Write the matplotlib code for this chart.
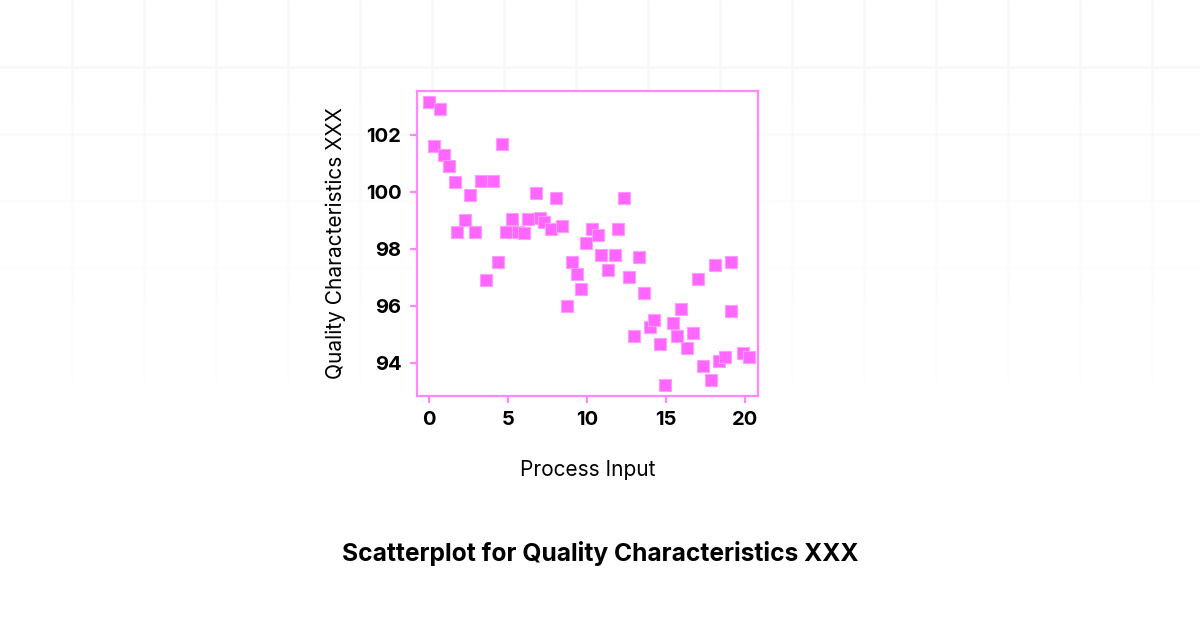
import matplotlib
matplotlib.use("Agg")
import matplotlib.pyplot as plt

# values
process_input = [
    0.0, 0.3, 0.7, 0.95, 1.25, 1.65, 1.8, 2.3, 2.6, 2.9,
    3.3, 3.6, 4.05, 4.35, 4.6, 4.85, 5.25, 5.6, 6.0, 6.25,
    6.75, 7.0, 7.3, 7.7, 8.0, 8.4, 8.75, 9.05, 9.35, 9.6,
    9.9, 10.3, 10.7, 10.85, 11.3, 11.75, 11.95, 12.35, 12.65, 12.95,
    13.3, 13.6, 13.95, 14.25, 14.6, 14.95, 15.4, 15.65, 15.95, 16.3,
    16.7, 17.0, 17.35, 17.8, 18.1, 18.35, 18.7, 19.1, 19.1, 19.85,
    20.2,
]
quality = [
    103.15, 101.6, 102.9, 101.3, 100.9, 100.35, 98.6, 99.0, 99.9, 98.6,
    100.4, 96.9, 100.4, 97.55, 101.7, 98.6, 99.05, 98.6, 98.55, 99.05,
    99.95, 99.1, 98.95, 98.7, 99.8, 98.8, 96.0, 97.55, 97.1, 96.6,
    98.2, 98.7, 98.5, 97.8, 97.25, 97.8, 98.7, 99.8, 97.0, 94.95,
    97.7, 96.45, 95.25, 95.5, 94.65, 93.2, 95.4, 94.95, 95.9, 94.5,
    95.05, 96.95, 93.9, 93.4, 97.45, 94.05, 94.2, 97.55, 95.8, 94.35,
    94.2,
]
x_ticks = [0, 5, 10, 15, 20]
y_ticks = [94, 96, 98, 100, 102]

PINK = "#ff66ff"
SPINE = "#ff88ff"

W, H = 1200, 628
fig = plt.figure(figsize=(12, 6.28), dpi=100)
fig.patch.set_facecolor("white")

# very faint decorative grid in the background, fading downwards
bg = fig.add_axes([0, 0, 1, 1], zorder=-1)
bg.set_xlim(0, W)
bg.set_ylim(H, 0)
bg.axis("off")
for gx in range(72, W, 72):
    for y0, a in [(0, 1.0), (100, 0.7), (200, 0.4), (280, 0.2)]:
        bg.plot([gx, gx], [y0, y0 + 100], color="#f8f8f8", lw=2, alpha=a,
                solid_capstyle="butt")
for gy, a in [(67, 0.9), (134, 0.6), (201, 0.35), (268, 0.2)]:
    bg.plot([0, W], [gy, gy], color="#f8f8f8", lw=2, alpha=a)

ax = fig.add_axes([0.3472, 0.3699, 0.2845, 0.4857])
ax.scatter(process_input, quality, marker="s", s=70, color=PINK,
           edgecolors="#ff9cff", linewidths=0.8, zorder=3)

ax.set_xlim(-0.78, 20.8)
ax.set_ylim(92.84, 103.56)
ax.set_xticks(x_ticks)
ax.set_yticks(y_ticks)
for s in ax.spines.values():
    s.set_color(SPINE)
    s.set_linewidth(1.6)
ax.tick_params(direction="out", length=5, width=1.6, color=SPINE,
               labelsize=14.5, pad=6)
for lab in ax.get_xticklabels() + ax.get_yticklabels():
    lab.set_fontweight("bold")
    lab.set_fontfamily("Inter")

ax.set_xlabel("Process Input", fontsize=15, family="Inter", labelpad=22)
ax.set_ylabel("Quality Characteristics XXX", fontsize=15, family="Inter",
              labelpad=14)

fig.text(0.5, 1 - 553 / H, "Scatterplot for Quality Characteristics XXX",
         ha="center", va="center", fontsize=17.7, fontweight="bold",
         family="Inter")

fig.savefig("out.png", dpi=100)
